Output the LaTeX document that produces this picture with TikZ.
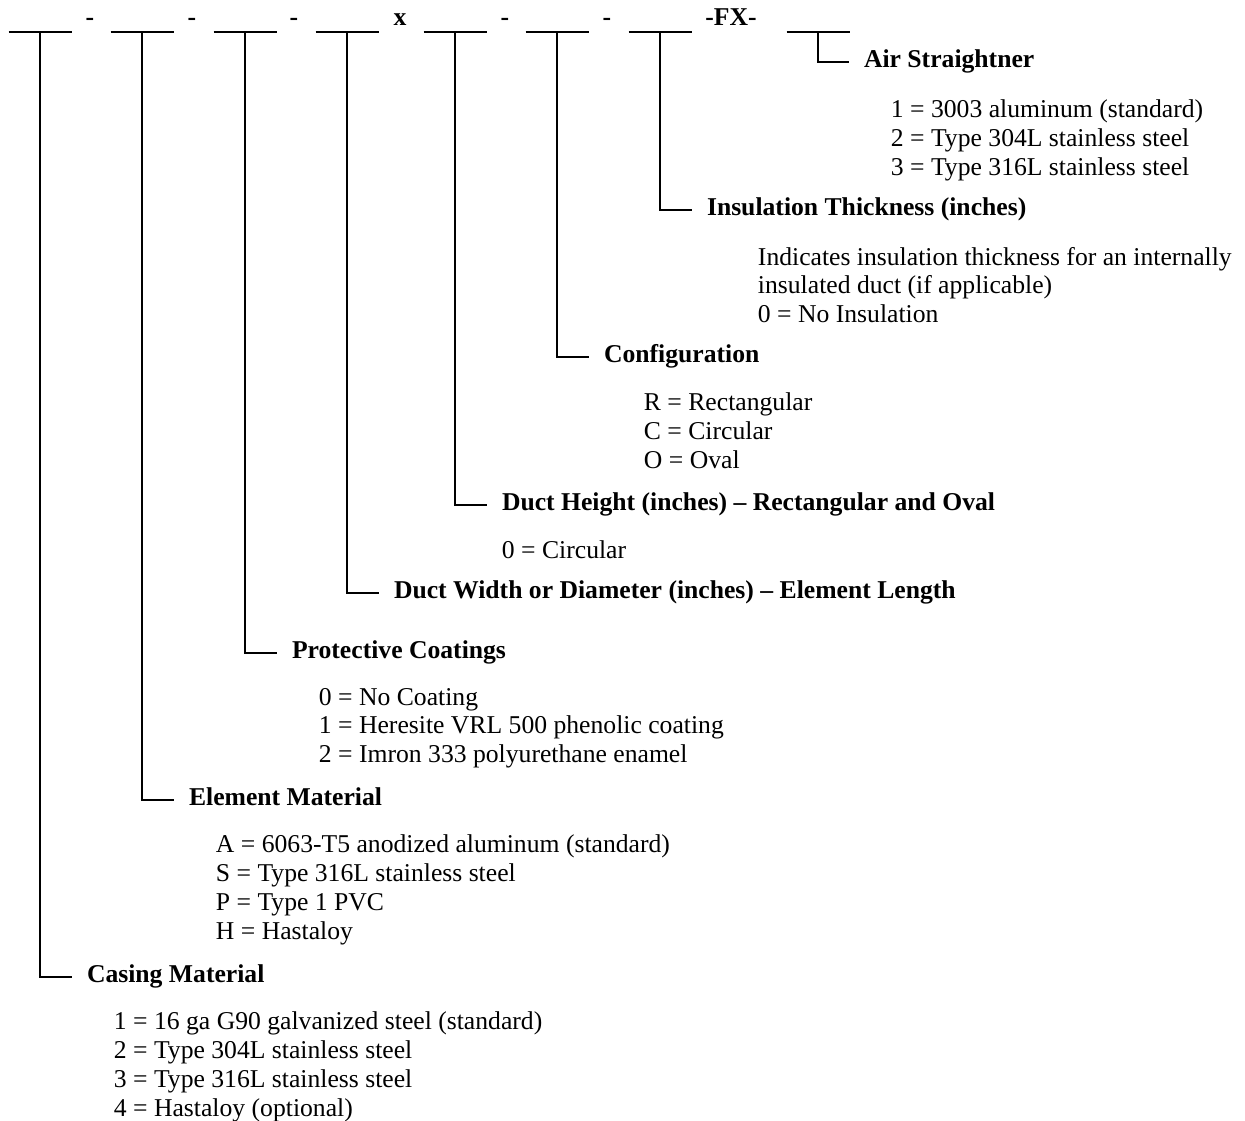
\documentclass[tikz,border=0pt]{standalone}
\usepackage{fontspec}
\setmainfont{Liberation Serif}
\newcommand\chartsize{\fontsize{14.6}{16.4}\selectfont}
\tikzset{
  head/.style={anchor=west, font=\chartsize\bfseries, inner xsep=8pt, inner ysep=0pt,
    text height=0.8em, text depth=0.15em},
  items/.style={anchor=north west, align=left, inner sep=0pt, font=\chartsize},
  sep/.style={anchor=base, font=\chartsize\bfseries, inner sep=0pt}
}
\begin{document}
\begin{tikzpicture}[x=0.02cm, y=-0.02cm, line width=1.1pt]
   \useasboundingbox (0,0) rectangle (1245,1120);

   % the blanks of the model number
   \foreach \x [count=\i] in {40,142,245,347,455,557,660,818}
     {\draw (\x-31.5,32) -- (\x+31.5,32);
      \coordinate (b\i) at (\x,32);}
   \node[sep] (s1) at (90,25) {-};
   \node[sep] (s2) at (192,25) {-};
   \node[sep] (s3) at (294,25) {-};
   \node[sep] (s4) at (400,25) {x};
   \node[sep] (s5) at (505,25) {-};
   \node[sep] (s6) at (607,25) {-};
   \node[sep] (s7) at (731,25) {-FX-};

   % headings
   \node[head] (air) at (849,62) {Air Straightner};
   \node[head] (insul) at (692,210) {Insulation Thickness (inches)};
   \node[head] (config) at (589,357) {Configuration};
   \node[head] (height) at (487,505) {Duct Height (inches) -- Rectangular and Oval};
   \node[head] (width) at (379,593) {Duct Width or Diameter (inches) -- Element Length};
   \node[head] (coat) at (277,653) {Protective Coatings};
   \node[head] (elem) at (174,800) {Element Material};
   \node[head] (casing) at (72,977) {Casing Material};

   \draw (b8) |- (air.west);
   \draw (b7) |- (insul.west);
   \draw (b6) |- (config.west);
   \draw (b5) |- (height.west);
   \draw (b4) |- (width.west);
   \draw (b3) |- (coat.west);
   \draw (b2) |- (elem.west);
   \draw (b1) |- (casing.west);

   % choices
   \node[items] (airlist) at (890,99) {1 = 3003 aluminum (standard)\\
     2 = Type 304L stainless steel\\ 3 = Type 316L stainless steel};
   \node[items] (insullist) at (757,246) {Indicates insulation thickness for an internally\\
     insulated duct (if applicable)\\ 0 = No Insulation};
   \node[items] (configlist) at (643,392) {R = Rectangular\\ C = Circular\\ O = Oval};
   \node[items] (heightlist) at (501,540) {0 = Circular};
   \node[items] (coatlist) at (318,687) {0 = No Coating\\
     1 = Heresite VRL 500 phenolic coating\\ 2 = Imron 333 polyurethane enamel};
   \node[items] (elemlist) at (215,834) {A = 6063-T5 anodized aluminum (standard)\\
     S = Type 316L stainless steel\\ P = Type 1 PVC\\ H = Hastaloy};
   \node[items] (casinglist) at (113,1011) {1 = 16 ga G90 galvanized steel (standard)\\
     2 = Type 304L stainless steel\\ 3 = Type 316L stainless steel\\ 4 = Hastaloy (optional)};

\end{tikzpicture}
\end{document}
